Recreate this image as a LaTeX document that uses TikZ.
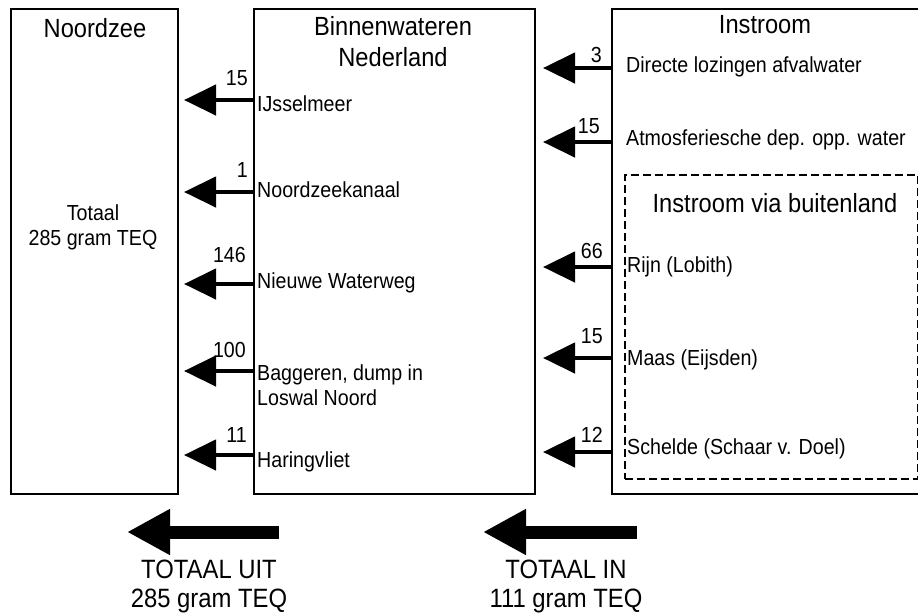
\documentclass[tikz,border=0pt]{standalone}
\usepackage{fontspec}
\setmainfont{Liberation Sans}[FakeStretch=0.9]
\usetikzlibrary{arrows.meta}
\begin{document}
\begin{tikzpicture}[x=1pt,y=-1pt,
  box/.style={draw, line width=1.5pt, inner sep=0pt, anchor=north west},
  dbox/.style={draw, line width=1.7pt, dash pattern=on 8pt off 4pt, inner sep=0pt, anchor=north west},
  ttl/.style={font=\fontsize{26.3}{30}\selectfont, anchor=base, inner sep=0pt},
  lbl/.style={font=\fontsize{21.8}{25}\selectfont, anchor=base west, inner sep=0pt},
  mid/.style={font=\fontsize{21.8}{25}\selectfont, anchor=base, inner sep=0pt},
  num/.style={font=\fontsize{21.8}{25}\selectfont, anchor=base east, inner sep=0pt},
  tot/.style={font=\fontsize{26.5}{29}\selectfont, anchor=base, inner sep=0pt},
  flow/.style={line width=4.5pt, -{Triangle[length=32pt,width=30pt]}},
  big/.style={line width=13pt, -{Triangle[length=43pt,width=43pt]}}]
\useasboundingbox (0,0) rectangle (918,614);
\clip (0,0) rectangle (918,614);
% boxes
\node[box, minimum width=167pt, minimum height=485pt] (noord) at (10,8) {};
\node[box, minimum width=281pt, minimum height=485pt] (binnen) at (253,8) {};
\node[box, minimum width=330pt, minimum height=485pt] (instr) at (611,8) {};
\node[dbox, minimum width=293pt, minimum height=304pt] (buit) at (624,174) {};
% titles
\node[ttl] (tn) at (95,37) {Noordzee};
\node[ttl] (tb1) at (393,35) {Binnenwateren};
\node[ttl] (tb2) at (393,66) {Nederland};
\node[ttl] (ti) at (765,33) {Instroom};
\node[ttl] (tv) at (775,212) {Instroom via buitenland};
\node[mid] (nt1) at (93,220) {Totaal};
\node[mid] (nt2) at (93,245) {285 gram TEQ};
% outflow arrows (Binnenwateren -> Noordzee)
\coordinate (o1) at (253,100); \coordinate (o1t) at (184,100);
\coordinate (o2) at (253,192); \coordinate (o2t) at (184,192);
\coordinate (o3) at (253,284); \coordinate (o3t) at (184,284);
\coordinate (o4) at (253,371); \coordinate (o4t) at (184,371);
\coordinate (o5) at (253,455); \coordinate (o5t) at (184,455);
\foreach \i in {1,...,5} {\draw[flow] (o\i) -- (o\i t);}
\node[num] (n1) at (248,85) {15};
\node[num] (n2) at (248,177) {1};
\node[num] (n3) at (246,262) {146};
\node[num] (n4) at (246,357) {100};
\node[num] (n5) at (247,442) {11};
\node[lbl] (l1) at (257,111) {IJsselmeer};
\node[lbl] (l2) at (257,197) {Noordzeekanaal};
\node[lbl] (l3) at (257,288) {Nieuwe Waterweg};
\node[lbl] (l4a) at (257,380) {Baggeren, dump in};
\node[lbl] (l4b) at (257,405) {Loswal Noord};
\node[lbl] (l5) at (257,467) {Haringvliet};
% inflow arrows (Instroom -> Binnenwateren)
\coordinate (i1) at (611,68); \coordinate (i1t) at (543,68);
\coordinate (i2) at (611,142); \coordinate (i2t) at (543,142);
\coordinate (i3) at (611,267); \coordinate (i3t) at (543,267);
\coordinate (i4) at (611,358); \coordinate (i4t) at (543,358);
\coordinate (i5) at (611,452); \coordinate (i5t) at (543,452);
\foreach \i in {1,...,5} {\draw[flow] (i\i) -- (i\i t);}
\node[num] (m1) at (602,62) {3};
\node[num] (m2) at (600,133) {15};
\node[num] (m3) at (603,258) {66};
\node[num] (m4) at (603,343) {15};
\node[num] (m5) at (603,442) {12};
\node[lbl] (r1) at (626,72) {Directe lozingen afvalwater};
\node[lbl] (r2) at (626,145) {Atmosferiesche dep. opp. water};
\node[lbl] (r3) at (627,272) {Rijn (Lobith)};
\node[lbl] (r4) at (627,365) {Maas (Eijsden)};
\node[lbl] (r5) at (627,454) {Schelde (Schaar v. Doel)};
% totals
\coordinate (u1) at (279,532); \coordinate (u1t) at (127,532);
\coordinate (u2) at (637,532); \coordinate (u2t) at (483,532);
\draw[big] (u1) -- (u1t);
\draw[big] (u2) -- (u2t);
\node[tot] (tu1) at (209,578) {TOTAAL UIT};
\node[tot] (tu2) at (209,607) {285 gram TEQ};
\node[tot] (ti1) at (566,578) {TOTAAL IN};
\node[tot] (ti2) at (566,607) {111 gram TEQ};
\end{tikzpicture}
\end{document}
